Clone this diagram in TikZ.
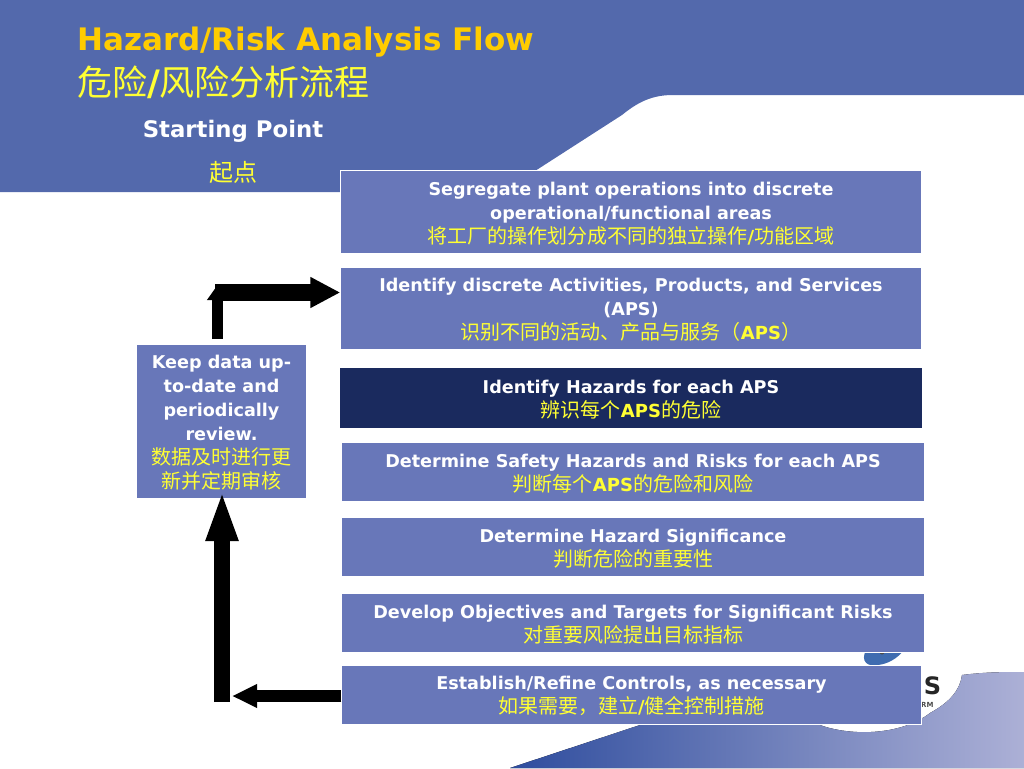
\documentclass[tikz,border=0pt]{standalone}
\usepackage{fontspec}
\setmainfont{DejaVu Sans}
\newfontfamily\cnfont{Noto Sans CJK SC}
\usepackage{xcolor}
\usetikzlibrary{positioning, arrows.meta, shapes}
\definecolor{HazBlue}{RGB}{83,105,172}
\definecolor{HazBox}{RGB}{104,119,185}
\definecolor{HazDark}{RGB}{26,42,94}
\definecolor{HazGold}{RGB}{255,204,0}
\definecolor{HazYellow}{RGB}{255,255,51}
\definecolor{HazWaveL}{RGB}{47,77,158}
\definecolor{HazWaveR}{RGB}{172,176,214}
\definecolor{HazEye}{RGB}{63,108,176}
\newcommand{\cn}[1]{{\color{HazYellow}\fontsize{20}{24}\selectfont\mdseries\cnfont #1}}
\newcommand{\ltn}[1]{{\fontsize{18}{24}\selectfont\rmfamily\bfseries #1}}
\newcommand{\topgap}{\rule{0pt}{16pt}}
\tikzset{
  stepbox/.style={fill=HazBox, draw=white, line width=0.4pt, text=white, align=center, inner sep=0pt,
    font=\fontsize{17.6}{24}\selectfont\bfseries},
  darkbox/.style={stepbox, fill=HazDark},
  flowline/.style={line width=16pt, black},
}
\begin{document}
\begin{tikzpicture}[x=1pt, y=-1pt]
\useasboundingbox (0,0) rectangle (1024,768);
% background
\fill[HazBlue] (0,0) -- (1024,0) -- (1024,95) -- (673,95)
  .. controls (652,95) and (638,102) .. (622,115) -- (535,171) -- (500,192) -- (0,192) -- cycle;
\fill[left color=HazWaveL, right color=HazWaveR]
  (510,768) -- (640,725) -- (820,725)
  .. controls (850,736) and (900,736) .. (930,713)
  .. controls (950,702) and (960,690) .. (962,675)
  .. controls (985,672) and (1005,672) .. (1024,672) -- (1024,768) -- cycle;
% logo bits
\fill[HazEye] (866,650) .. controls (860,662) and (868,667) .. (878,665) .. controls (888,664) and (898,658) .. (904,650) -- cycle;
\fill[black!70] (882,652) circle (2.5pt);
\node[font=\fontsize{24}{24}\selectfont\bfseries, text=black!85] (logoS) at (932.5,686) {S};
\node[font=\fontsize{7}{7}\selectfont\bfseries, text=black!70] (logoRM) at (926,705) {IRM};
% title
\node[font=\fontsize{31}{31}\selectfont\bfseries, text=HazGold, anchor=west, inner sep=0pt] (title) at (77,42.5) {Hazard/Risk Analysis Flow};
\node[font=\fontsize{35}{35}\selectfont, text=HazYellow, anchor=west, inner sep=0pt] (titlecn) at (77,82) {\cnfont 危险{\rmfamily\bfseries /}风险分析流程};
\node[font=\fontsize{22.8}{24}\selectfont\bfseries, text=white] (start) at (233,131) {Starting Point};
\node[font=\fontsize{24}{24}\selectfont, text=HazYellow] (startcn) at (233,172) {\cnfont 起点};
% boxes
\node[stepbox, minimum width=581pt, minimum height=83pt] (segregate) at (631,212) {\topgap Segregate plant operations into discrete\\operational/functional areas\\\cn{将工厂的操作划分成不同的独立操作\ltn{/}功能区域}};
\node[stepbox, minimum width=581pt, minimum height=82pt] (activities) at (631,308.5) {\topgap Identify discrete Activities, Products, and Services\\(APS)\\\cn{识别不同的活动、产品与服务（\ltn{APS}）}};
\node[darkbox, minimum width=583pt, minimum height=61pt] (hazards) at (631,398) {\topgap Identify Hazards for each APS\\\cn{辨识每个\ltn{APS}的危险}};
\node[stepbox, minimum width=583pt, minimum height=59pt] (safety) at (633,472) {\topgap Determine Safety Hazards and Risks for each APS\\\cn{判断每个\ltn{APS}的危险和风险}};
\node[stepbox, minimum width=583pt, minimum height=59pt] (significance) at (633,547) {\topgap Determine Hazard Significance\\\cn{判断危险的重要性}};
\node[stepbox, minimum width=583pt, minimum height=59pt] (objectives) at (633,623) {\topgap Develop Objectives and Targets for Significant Risks\\\cn{对重要风险提出目标指标}};
\node[stepbox, minimum width=580pt, minimum height=59pt] (controls) at (631.5,695) {\topgap Establish/Refine Controls, as necessary\\\cn{如果需要，建立\ltn{/}健全控制措施}};
\node[stepbox, minimum width=170pt, minimum height=154pt] (keep) at (221.5,421.5) {\topgap Keep data up-\\to-date and\\periodically\\review.\\\cn{数据及时进行更}\\\cn{新并定期审核}};
% connectors
\coordinate (cornerlow) at (222,702);
\coordinate (keeptip) at (222,490);
\coordinate (cornerhigh) at (217.5,285);
\coordinate (cornerright) at (215,292.5);
\draw[line width=12pt, -{Triangle[length=25pt, width=22pt]}] (controls.west |- 0,696) -- (232,696);
\draw[flowline, -{Triangle[length=51pt, width=29pt]}] (cornerlow) -- (keeptip);
\draw[line width=11pt, -{Triangle[length=15pt, width=20pt]}] (217.5,339) -- (cornerhigh);
\draw[line width=17pt, -{Triangle[length=30pt, width=29pt]}] (cornerright) -- (activities.west |- cornerright);
\end{tikzpicture}
\end{document}
